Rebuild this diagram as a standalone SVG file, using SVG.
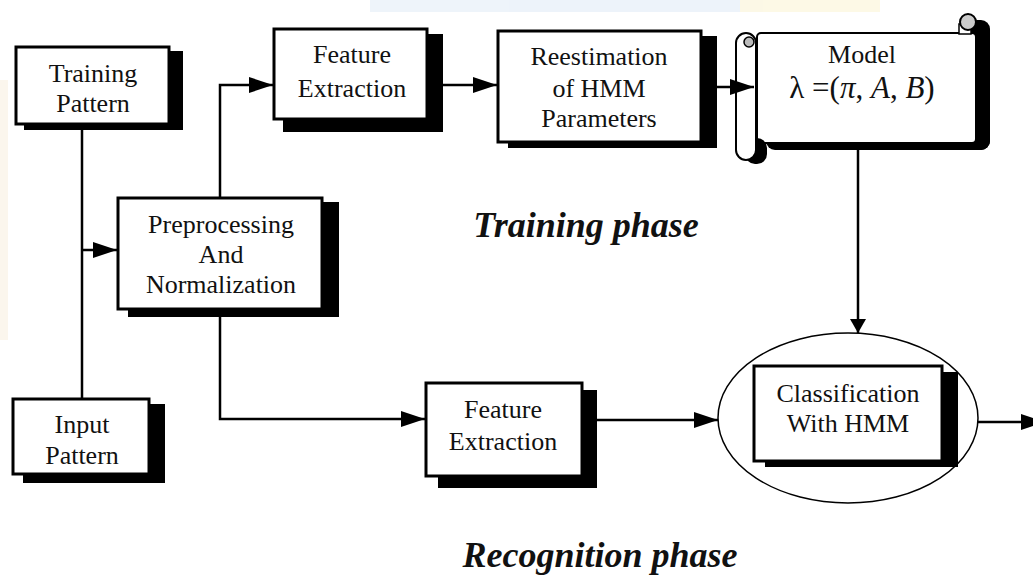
<svg xmlns="http://www.w3.org/2000/svg" width="1033" height="577" viewBox="0 0 1033 577">
<style>
.box{fill:#fff;stroke:#000;stroke-width:3}
.sh{fill:#000}
.t{font-family:"Liberation Serif","Times New Roman",serif;font-size:26px;fill:#111;text-anchor:middle}
.ph{font-family:"Liberation Serif","Times New Roman",serif;font-size:36px;font-weight:bold;font-style:italic;fill:#111;text-anchor:middle}
.c{fill:none;stroke:#000;stroke-width:2.5}
</style>
<defs>
<marker id="ah" markerUnits="userSpaceOnUse" markerWidth="24" markerHeight="16" refX="24" refY="8" orient="auto">
<path d="M0,0 L24,8 L0,16 z" fill="#000"/>
</marker>
<marker id="ahs" markerUnits="userSpaceOnUse" markerWidth="14" markerHeight="16" refX="14" refY="8" orient="auto">
<path d="M0,0 L14,8 L0,16 z" fill="#000"/>
</marker>
</defs>
<rect width="1033" height="577" fill="#fff"/>
<g id="watermark" opacity="0.45">
<rect x="370" y="0" width="370" height="12" fill="#d9e6f5"/>
<rect x="740" y="0" width="140" height="12" fill="#faf1c8"/>
<rect x="0" y="80" width="8" height="260" fill="#f6ecd8"/>
</g>
<g id="connectors">
<path class="c" d="M82,125 V398"/>
<path class="c" d="M82,250 H117" marker-end="url(#ah)"/>
<path class="c" d="M220,197 V85 H273" marker-end="url(#ah)"/>
<path class="c" d="M220,317 V419 H425" marker-end="url(#ah)"/>
<path class="c" d="M443,85 H497" marker-end="url(#ah)"/>
<path class="c" d="M858,150 V333" marker-end="url(#ahs)"/>
<path class="c" d="M597,420 H718" marker-end="url(#ah)"/>
<path class="c" d="M978,422 H1045" marker-end="url(#ah)"/>
</g>
<g id="training-pattern">
<rect class="sh" x="24" y="51" width="159" height="79"/>
<rect class="box" x="16" y="47" width="153" height="77"/>
<text class="t" x="93" y="82">Training</text>
<text class="t" x="93" y="112">Pattern</text>
</g>
<g id="input-pattern">
<rect class="sh" x="23" y="404" width="142" height="79"/>
<rect class="box" x="13" y="399" width="136" height="75"/>
<text class="t" x="82" y="433">Input</text>
<text class="t" x="82" y="464">Pattern</text>
</g>
<g id="preprocessing">
<rect class="sh" x="128" y="202" width="211" height="115"/>
<rect class="box" x="118" y="198" width="204" height="111"/>
<text class="t" x="221" y="233">Preprocessing</text>
<text class="t" x="221" y="263">And</text>
<text class="t" x="221" y="293">Normalization</text>
</g>
<g id="feature-extraction-train">
<rect class="sh" x="283" y="34" width="160" height="98"/>
<rect class="box" x="274" y="29" width="153" height="90"/>
<text class="t" x="352" y="63">Feature</text>
<text class="t" x="352" y="97">Extraction</text>
</g>
<g id="reestimation">
<rect class="sh" x="508" y="36" width="209" height="112"/>
<rect class="box" x="498" y="31" width="203" height="111"/>
<text class="t" x="599" y="65">Reestimation</text>
<text class="t" x="599" y="97">of HMM</text>
<text class="t" x="599" y="127">Parameters</text>
</g>
<g id="model">
<rect class="sh" x="766" y="40" width="224" height="110" rx="9"/>
<rect class="sh" x="968" y="20" width="22" height="130" rx="9"/>
<rect x="757" y="33" width="219" height="110" rx="4" fill="#fff" stroke="#000" stroke-width="2"/>
<rect x="959" y="24" width="12" height="10" fill="#fff" stroke="#000" stroke-width="1.5"/>
<circle cx="968" cy="22" r="8" fill="#ccc" stroke="#000" stroke-width="2"/>
<rect class="sh" x="745" y="138" width="22" height="26" rx="10"/>
<rect x="736" y="33" width="20" height="127" rx="10" fill="#fff" stroke="#000" stroke-width="2"/>
<circle cx="749" cy="42" r="5" fill="#bbb" stroke="#000" stroke-width="1.5"/>
<path class="c" d="M717,87 H754" marker-end="url(#ah)"/>
<text class="t" x="862" y="63">Model</text>
<text class="t" x="862" y="98" style="font-size:31px">λ =(<tspan font-style="italic">π</tspan>, <tspan font-style="italic">A</tspan>, <tspan font-style="italic">B</tspan>)</text>
</g>
<g id="classification">
<ellipse cx="848" cy="418" rx="130" ry="85" fill="#fff" stroke="#000" stroke-width="1.5"/>
<rect class="sh" x="765" y="372" width="193" height="95"/>
<rect class="box" x="754" y="366" width="188" height="95"/>
<text class="t" x="848" y="402">Classification</text>
<text class="t" x="848" y="432">With HMM</text>
</g>
<g id="feature-extraction-recog">
<rect class="sh" x="438" y="390" width="159" height="98"/>
<rect class="box" x="426" y="383" width="156" height="93"/>
<text class="t" x="503" y="418">Feature</text>
<text class="t" x="503" y="450">Extraction</text>
</g>
<g id="labels">
<text class="ph" x="586" y="237">Training phase</text>
<text class="ph" x="600" y="567">Recognition phase</text>
</g>
</svg>
